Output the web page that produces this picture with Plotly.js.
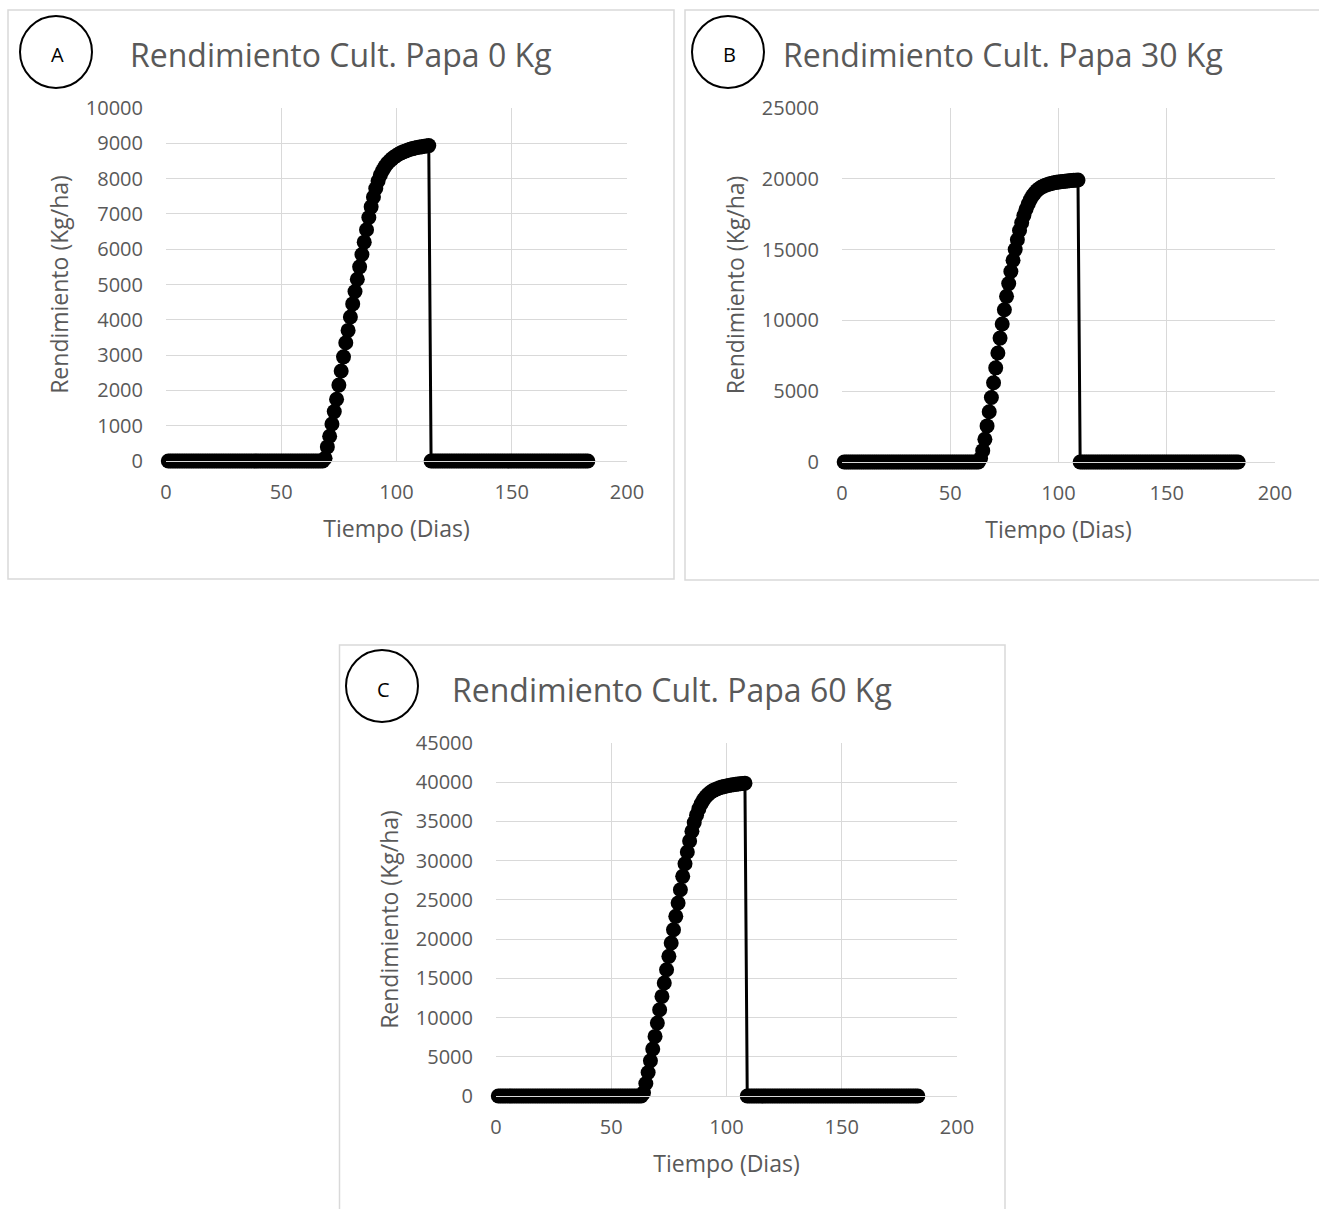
<!DOCTYPE html>
<html>
<head>
<meta charset="utf-8">
<script src="https://cdn.plot.ly/plotly-3.0.1.min.js"></script>
<style>
  html, body { margin: 0; padding: 0; background: #ffffff; }
  #chart { width: 1319px; height: 1209px; }
</style>
</head>
<body>
<div id="chart"></div>
<script>
// ---------------- DATA ----------------
const dias = [
  1,2,3,4,5,6,7,8,9,10,
  11,12,13,14,15,16,17,18,19,20,
  21,22,23,24,25,26,27,28,29,30,
  31,32,33,34,35,36,37,38,39,40,
  41,42,43,44,45,46,47,48,49,50,
  51,52,53,54,55,56,57,58,59,60,
  61,62,63,64,65,66,67,68,69,70,
  71,72,73,74,75,76,77,78,79,80,
  81,82,83,84,85,86,87,88,89,90,
  91,92,93,94,95,96,97,98,99,100,
  101,102,103,104,105,106,107,108,109,110,
  111,112,113,114,115,116,117,118,119,120,
  121,122,123,124,125,126,127,128,129,130,
  131,132,133,134,135,136,137,138,139,140,
  141,142,143,144,145,146,147,148,149,150,
  151,152,153,154,155,156,157,158,159,160,
  161,162,163,164,165,166,167,168,169,170,
  171,172,173,174,175,176,177,178,179,180,
  181,182,183
];

// Panel A: 0 Kg (days 1-68 zero, 69-114 growth, 115-183 zero)
const rend0Kg = [
  0,0,0,0,0,0,0,0,0,0,
  0,0,0,0,0,0,0,0,0,0,
  0,0,0,0,0,0,0,0,0,0,
  0,0,0,0,0,0,0,0,0,0,
  0,0,0,0,0,0,0,0,0,0,
  0,0,0,0,0,0,0,0,0,0,
  0,0,0,0,0,0,0,0,
  80,400,700,1050,1400,1750,2150,2550,2950,3350,
  3700,4080,4450,4800,5150,5500,5850,6200,6550,6900,
  7200,7480,7720,7930,8100,8230,8340,8430,8500,8560,
  8610,8655,8695,8730,8760,8785,8810,8830,8850,8865,
  8880,8893,8905,8915,8925,8935,
  0,0,0,0,0,0,0,0,0,0,
  0,0,0,0,0,0,0,0,0,0,
  0,0,0,0,0,0,0,0,0,0,
  0,0,0,0,0,0,0,0,0,0,
  0,0,0,0,0,0,0,0,0,0,
  0,0,0,0,0,0,0,0,0,0,
  0,0,0,0,0,0,0,0,0
];

// Panel B: 30 Kg (days 1-63 zero, 64-109 growth, 110-183 zero)
const rend30Kg = [
  0,0,0,0,0,0,0,0,0,0,
  0,0,0,0,0,0,0,0,0,0,
  0,0,0,0,0,0,0,0,0,0,
  0,0,0,0,0,0,0,0,0,0,
  0,0,0,0,0,0,0,0,0,0,
  0,0,0,0,0,0,0,0,0,0,
  0,0,0,
  250,800,1600,2550,3550,4550,5600,6650,7700,8750,
  9750,10750,11700,12600,13450,14250,15000,15700,16350,16900,
  17400,17850,18220,18530,18800,19000,19170,19300,19400,19480,
  19550,19600,19645,19685,19720,19750,19775,19795,19815,19835,
  19850,19865,19880,19895,19905,19915,
  0,0,0,0,0,0,0,0,0,0,
  0,0,0,0,0,0,0,0,0,0,
  0,0,0,0,0,0,0,0,0,0,
  0,0,0,0,0,0,0,0,0,0,
  0,0,0,0,0,0,0,0,0,0,
  0,0,0,0,0,0,0,0,0,0,
  0,0,0,0,0,0,0,0,0,0,
  0,0,0,0
];

// Panel C: 60 Kg (days 1-63 zero, 64-108 growth, 109-183 zero)
const rend60Kg = [
  0,0,0,0,0,0,0,0,0,0,
  0,0,0,0,0,0,0,0,0,0,
  0,0,0,0,0,0,0,0,0,0,
  0,0,0,0,0,0,0,0,0,0,
  0,0,0,0,0,0,0,0,0,0,
  0,0,0,0,0,0,0,0,0,0,
  0,0,0,
  400,1600,3000,4500,6000,7600,9300,11000,12700,14400,
  16100,17800,19500,21200,22900,24600,26300,28000,29600,31100,
  32500,33750,34850,35800,36600,37250,37750,38150,38450,38700,
  38900,39050,39180,39290,39380,39460,39530,39590,39640,39690,
  39730,39770,39810,39850,39880,
  0,0,0,0,0,0,0,0,0,0,
  0,0,0,0,0,0,0,0,0,0,
  0,0,0,0,0,0,0,0,0,0,
  0,0,0,0,0,0,0,0,0,0,
  0,0,0,0,0,0,0,0,0,0,
  0,0,0,0,0,0,0,0,0,0,
  0,0,0,0,0,0,0,0,0,0,
  0,0,0,0,0
];

const titulos = ["Rendimiento Cult. Papa 0 Kg", "Rendimiento Cult. Papa 30 Kg", "Rendimiento Cult. Papa 60 Kg"];
const letras = ["A", "B", "C"];
const tituloX = "Tiempo (Dias)";
const tituloY = "Rendimiento (Kg/ha)";
const rangosY = [10000, 25000, 45000];
const pasosY = [1000, 5000, 5000];

// ---------------- LAYOUT ----------------
const W = 1319, H = 1209;
const px = x => x / W;
const py = y => 1 - y / H;

const FONT = "Open Sans, Noto Sans, sans-serif";
const GREY = "#595959";
const GRID = "#d9d9d9";

const panels = [
  {plot: [166, 627, 108, 461], box: [8, 674, 10, 579], circ: [56, 52, 36], letter: [57, 55], title: [341, 55]},
  {plot: [842, 1275, 108, 462], box: [685, 1330, 10, 580], circ: [728, 52, 36], letter: [729, 55], title: [1003, 55]},
  {plot: [496, 957, 743, 1096], box: [339.5, 1005, 645, 1215], circ: [382, 686, 36], letter: [383, 689], title: [672, 689]}
];
const series = [rend0Kg, rend30Kg, rend60Kg];

const data = [];
const layout = {
  width: W, height: H,
  margin: {l: 0, r: 0, t: 0, b: 0},
  paper_bgcolor: "#ffffff",
  plot_bgcolor: "rgba(0,0,0,0)",
  showlegend: false,
  font: {family: FONT, color: GREY},
  shapes: [],
  annotations: []
};

panels.forEach((p, i) => {
  const n = i === 0 ? "" : String(i + 1);
  data.push({
    type: "scatter",
    mode: "lines+markers",
    x: dias,
    y: series[i],
    xaxis: "x" + n,
    yaxis: "y" + n,
    line: {color: "#000000", width: 3},
    marker: {color: "#000000", size: 15, symbol: "circle"},
    cliponaxis: false,
    hoverinfo: "x+y"
  });
  layout["xaxis" + n] = {
    domain: [px(p.plot[0]), px(p.plot[1])],
    anchor: "y" + n,
    range: [0, 200],
    dtick: 50, tick0: 0,
    showgrid: true, gridcolor: GRID, gridwidth: 1,
    zeroline: false,
    showline: true, linecolor: GRID, linewidth: 1,
    ticks: "",
    ticklabelstandoff: 13,
    tickfont: {family: FONT, size: 20, color: GREY},
    title: {text: tituloX, font: {family: FONT, size: 23, color: GREY}, standoff: 16},
    fixedrange: true
  };
  layout["yaxis" + n] = {
    domain: [py(p.plot[3]), py(p.plot[2])],
    anchor: "x" + n,
    range: [0, rangosY[i]],
    dtick: pasosY[i], tick0: 0,
    tickformat: "d",
    showgrid: true, gridcolor: GRID, gridwidth: 1,
    zeroline: false,
    showline: false,
    ticks: "",
    ticklabelstandoff: 22,
    tickfont: {family: FONT, size: 20, color: GREY},
    title: {text: tituloY, font: {family: FONT, size: 23, color: GREY}, standoff: 10},
    fixedrange: true
  };
  // panel border
  layout.shapes.push({
    type: "rect", xref: "paper", yref: "paper", layer: "below",
    x0: px(p.box[0]), x1: px(p.box[1]), y0: py(p.box[3]), y1: py(p.box[2]),
    line: {color: GRID, width: 1.5}, fillcolor: "rgba(0,0,0,0)"
  });
  // circle label
  const c = p.circ;
  layout.shapes.push({
    type: "circle", xref: "paper", yref: "paper",
    x0: px(c[0] - c[2]), x1: px(c[0] + c[2]), y0: py(c[1] + c[2]), y1: py(c[1] - c[2]),
    line: {color: "#000000", width: 2}, fillcolor: "rgba(0,0,0,0)"
  });
  layout.annotations.push({
    xref: "paper", yref: "paper", x: px(p.letter[0]), y: py(p.letter[1]),
    text: letras[i], showarrow: false, xanchor: "center", yanchor: "middle",
    font: {family: FONT, size: 20, color: "#000000"}
  });
  layout.annotations.push({
    xref: "paper", yref: "paper", x: px(p.title[0]), y: py(p.title[1]),
    text: titulos[i], showarrow: false, xanchor: "center", yanchor: "middle",
    font: {family: FONT, size: 32, color: GREY}
  });
});

Plotly.newPlot("chart", data, layout, {displayModeBar: false, staticPlot: true});
</script>
</body>
</html>
